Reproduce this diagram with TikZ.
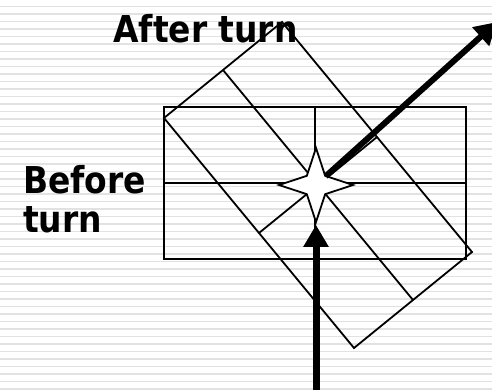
\documentclass[tikz,border=0pt]{standalone}
\usepackage{fontspec}
\newfontfamily\lblfont{DejaVu Sans}[FakeStretch=0.89]
\usepackage{xcolor}
\definecolor{vizStripe}{HTML}{E2E2E2}
\usetikzlibrary{shapes.geometric,arrows.meta}

\begin{document}
\begin{tikzpicture}[x=1pt, y=-1pt,
  thinLine/.style={black, line width=1.8pt},
  bigArrow/.style={black, -{Triangle[width=24pt,length=22pt]}},
  turnText/.style={font=\lblfont\bfseries\fontsize{37}{39}\selectfont, inner sep=0pt, anchor=base west}]
  \filldraw[fill=white, draw=none] (0,0) rectangle (492,389);
  \useasboundingbox (0,0) rectangle (492,389);
  \clip (0,0) rectangle (492,389);
  % striped background
  \foreach \k in {0,...,51}
    \draw[vizStripe, line width=1.5pt] (0,6.7+7.5*\k) -- (492,6.7+7.5*\k);
  % before turn
  \draw[thinLine] (164,107) rectangle (466,259);
  \draw[thinLine] (315,107) -- (315,259);
  \draw[thinLine] (164,183) -- (466,183);
  % after turn
  \coordinate (L) at (164,118);
  \coordinate (T) at (282,22);
  \coordinate (R) at (472,252);
  \coordinate (B) at (354,348);
  \draw[thinLine] (L) -- (T) -- (R) -- (B) -- cycle;
  \draw[thinLine] (223,70) -- (413,300);
  \draw[thinLine] (259,233) -- (377,137);
  % the turning point
  \node[star, star points=4, star point ratio=2.85, minimum size=74pt, inner sep=0pt,
        draw, fill=white, line width=1.8pt] (spark) at (316,185) {};
  \coordinate (inBase) at (316,400);
  \coordinate (outTip) at (497,22);
  \draw[bigArrow, line width=7pt] (inBase) -- (spark.south);
  \draw[bigArrow, line width=6pt, shorten <=13pt] (spark.center) -- (outTip);
  % labels
  \node[turnText] (after) at (113,42) {After turn};
  \node[turnText] (before) at (23,193) {Before};
  \node[turnText] (beforeb) at (23,232) {turn};
\end{tikzpicture}
\end{document}
